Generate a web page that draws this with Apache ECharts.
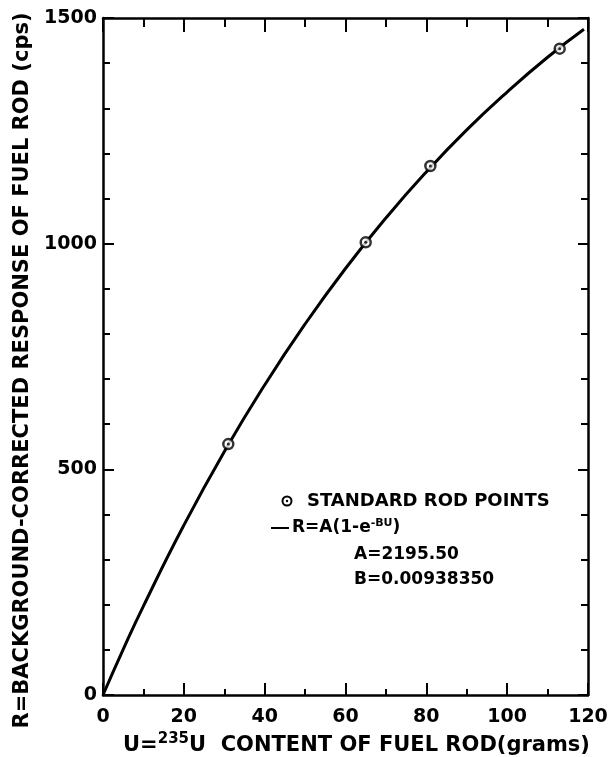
<!DOCTYPE html>
<html>
<head>
<meta charset="utf-8">
<script src="https://cdn.jsdelivr.net/npm/echarts@6/dist/echarts.min.js"></script>
<style>html,body{margin:0;padding:0;background:#fff}#c{width:609px;height:757px}</style>
</head>
<body>
<div id="c"></div>
<script>
// Data
var rodU = [31, 65, 81, 113];
var rodR = [556, 1003, 1172, 1432];
var curveU = [0, 5, 10, 20, 30, 40, 50, 60, 70, 80, 90, 100, 110, 119];
var curveR = [0, 101, 197, 376, 539, 687, 822, 945, 1057, 1159, 1252, 1336, 1413, 1475];
var xTicks = [0, 20, 40, 60, 80, 100, 120];
var yTicks = [0, 500, 1000, 1500];

var FONT = 'DejaVu Sans';
var chart = echarts.init(document.getElementById('c'));
var pts = rodU.map(function (u, i) { return [u, rodR[i]]; });
var crv = curveU.map(function (u, i) { return [u, curveR[i]]; });

function ax(majorLen, minorLen, split, extra) {
  return Object.assign({
    type: 'value',
    axisLine: { show: true, onZero: false, lineStyle: { color: '#000', width: 2.5 } },
    axisTick: { show: true, inside: true, length: majorLen, lineStyle: { color: '#000', width: 2 } },
    minorTick: { show: true, splitNumber: split, length: minorLen, lineStyle: { color: '#000', width: 2 } },
    splitLine: { show: false },
    minorSplitLine: { show: false }
  }, extra);
}
var plain = function (v) { return String(v); };

chart.setOption({
  animation: false,
  grid: { left: 103, right: 21, top: 18, bottom: 62, outerBoundsMode: 'none', containLabel: false },
  xAxis: [
    ax(12, 6, 2, { min: xTicks[0], max: xTicks[xTicks.length - 1], interval: 20, position: 'bottom',
      axisLabel: { color: '#000', fontFamily: FONT, fontWeight: 'bold', fontSize: 19, margin: 13, formatter: plain },
      name: '{a|U=}{s|235}{a|U  CONTENT OF FUEL ROD(grams)}', nameLocation: 'middle', nameGap: 36,
      nameTextStyle: { padding: [0, 0, 0, 22], rich: {
        a: { color: '#000', fontFamily: FONT, fontWeight: 'bold', fontSize: 21 },
        s: { color: '#000', fontFamily: FONT, fontWeight: 'bold', fontSize: 15, padding: [0, 0, 12, 0] }
      } } }),
    ax(14, 9, 2, { min: xTicks[0], max: xTicks[xTicks.length - 1], interval: 20, position: 'top',
      axisLabel: { show: false } })
  ],
  yAxis: [
    ax(11, 7, 5, { min: yTicks[0], max: yTicks[yTicks.length - 1], interval: 500, position: 'left',
      axisLabel: { color: '#000', fontFamily: FONT, fontWeight: 'bold', fontSize: 19, margin: 6, formatter: plain },
      name: 'R=BACKGROUND-CORRECTED RESPONSE OF FUEL ROD (cps)', nameLocation: 'middle', nameGap: 70,
      nameTextStyle: { color: '#000', fontFamily: FONT, fontWeight: 'bold', fontSize: 21, padding: [0, 28, 0, 0] } }),
    ax(10, 7, 5, { min: yTicks[0], max: yTicks[yTicks.length - 1], interval: 500, position: 'right',
      axisLabel: { show: false } })
  ],
  series: [
    { type: 'line', data: crv, smooth: true, showSymbol: false, lineStyle: { color: '#000', width: 3 }, z: 2 },
    { type: 'scatter', data: pts, symbol: 'circle', symbolSize: 10,
      itemStyle: { color: '#fff', borderColor: '#000', borderWidth: 2.5 }, z: 3 },
    { type: 'scatter', data: pts, symbol: 'circle', symbolSize: 3, itemStyle: { color: '#000' }, z: 4 }
  ],
  graphic: [
    { type: 'circle', shape: { cx: 287, cy: 501, r: 4.5 }, style: { fill: '#fff', stroke: '#000', lineWidth: 2 } },
    { type: 'circle', shape: { cx: 287, cy: 501, r: 1.2 }, style: { fill: '#000' } },
    { type: 'text', x: 307, y: 501, style: { text: 'STANDARD ROD POINTS', fill: '#000', font: 'bold 18px "DejaVu Sans"', verticalAlign: 'middle' } },
    { type: 'line', shape: { x1: 271, y1: 528, x2: 289, y2: 528 }, style: { stroke: '#000', lineWidth: 2 } },
    { type: 'text', x: 292, y: 528, style: {
      text: '{a|R=A(1-e}{s|-BU}{a|)}', verticalAlign: 'middle', rich: {
        a: { fill: '#000', font: 'bold 17px "DejaVu Sans"' },
        s: { fill: '#000', font: 'bold 11px "DejaVu Sans"', padding: [0, 0, 10, 0] }
      } } },
    { type: 'text', x: 354, y: 555, style: { text: 'A=2195.50', fill: '#000', font: 'bold 17px "DejaVu Sans"', verticalAlign: 'middle' } },
    { type: 'text', x: 354, y: 580, style: { text: 'B=0.00938350', fill: '#000', font: 'bold 17px "DejaVu Sans"', verticalAlign: 'middle' } }
  ]
});
</script>
</body>
</html>
